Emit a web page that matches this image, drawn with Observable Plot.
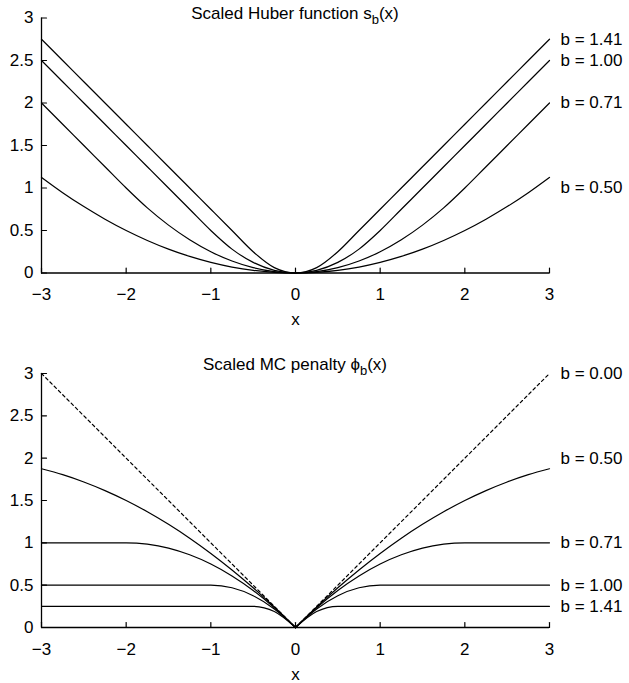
<!DOCTYPE html>
<html><head><meta charset="utf-8">
<script src="https://cdn.jsdelivr.net/npm/d3@7"></script>
<script src="https://cdn.jsdelivr.net/npm/@observablehq/plot@0.6"></script>
<style>
body{margin:0;background:#fff;}
#chart{width:629px;}
#chart svg{display:block;}
</style></head><body><div id="chart"></div>
<script>
// sample positions along x
const xs = [-3,-2.75,-2.5,-2.25,-2,-1.75,-1.5,-1.25,-1,-0.75,-0.5,-0.25,0,0.25,0.5,0.75,1,1.25,1.5,1.75,2,2.25,2.5,2.75,3];

// Scaled Huber function s_b(x)
const huber141 = [2.75,2.5,2.25,2,1.75,1.5,1.25,1,0.75,0.5,0.25,0.063,0,0.063,0.25,0.5,0.75,1,1.25,1.5,1.75,2,2.25,2.5,2.75];
const huber100 = [2.5,2.25,2,1.75,1.5,1.25,1,0.75,0.5,0.281,0.125,0.031,0,0.031,0.125,0.281,0.5,0.75,1,1.25,1.5,1.75,2,2.25,2.5];
const huber071 = [2,1.75,1.5,1.25,1,0.766,0.563,0.391,0.25,0.141,0.063,0.016,0,0.016,0.063,0.141,0.25,0.391,0.563,0.766,1,1.25,1.5,1.75,2];
const huber050 = [1.125,0.945,0.781,0.633,0.5,0.383,0.281,0.195,0.125,0.07,0.031,0.008,0,0.008,0.031,0.07,0.125,0.195,0.281,0.383,0.5,0.633,0.781,0.945,1.125];

// Scaled MC penalty phi_b(x)
const mc000 = [3,2.75,2.5,2.25,2,1.75,1.5,1.25,1,0.75,0.5,0.25,0,0.25,0.5,0.75,1,1.25,1.5,1.75,2,2.25,2.5,2.75,3];
const mc050 = [1.875,1.805,1.719,1.617,1.5,1.367,1.219,1.055,0.875,0.68,0.469,0.242,0,0.242,0.469,0.68,0.875,1.055,1.219,1.367,1.5,1.617,1.719,1.805,1.875];
const mc071 = [1,1,1,1,1,0.984,0.938,0.859,0.75,0.609,0.438,0.234,0,0.234,0.438,0.609,0.75,0.859,0.938,0.984,1,1,1,1,1];
const mc100 = [0.5,0.5,0.5,0.5,0.5,0.5,0.5,0.5,0.5,0.469,0.375,0.219,0,0.219,0.375,0.469,0.5,0.5,0.5,0.5,0.5,0.5,0.5,0.5,0.5];
const mc141 = [0.25,0.25,0.25,0.25,0.25,0.25,0.25,0.25,0.25,0.25,0.25,0.188,0,0.188,0.25,0.25,0.25,0.25,0.25,0.25,0.25,0.25,0.25,0.25,0.25];

const huberLabels = ["b = 1.41","b = 1.00","b = 0.71","b = 0.50"];
const huberLabelY = [2.75, 2.5, 2.0, 1.0];
const mcLabels = ["b = 0.00","b = 0.50","b = 0.71","b = 1.00","b = 1.41"];
const mcLabelY = [3.0, 2.0, 1.0, 0.5, 0.25];

const xTicks = [-3,-2,-1,0,1,2,3];
const yTicks = [0,0.5,1,1.5,2,2.5,3];

const FONT = "Liberation Sans, Arial, Helvetica, sans-serif";
const FS = 17;
const tickShape = {draw(ctx, l) { ctx.moveTo(0, 0); ctx.lineTo(0, -l); }};
const fmt = d => d < 0 ? "\u2212" + Math.abs(d) : String(d);

function panel({series, labels, labelY, dashed, split, height, marginTop, marginBottom, title, titleDy}) {
  const rows = [];
  series.forEach((vals, k) => xs.forEach((x, i) => {
    if (split) {
      if (x <= 0) rows.push({x, y: vals[i], key: labels[k] + "L", dashed: dashed[k]});
      if (x >= 0) rows.push({x, y: vals[i], key: labels[k] + "R", dashed: dashed[k]});
    } else {
      rows.push({x, y: vals[i], key: labels[k], dashed: dashed[k]});
    }
  }));
  const ends = labels.map((t, k) => ({t, y: labelY[k]}));
  const plot = Plot.plot({
    width: 629, height,
    marginLeft: 41, marginRight: 80, marginTop, marginBottom,
    style: {fontFamily: FONT, fontSize: FS + "px", color: "black", background: "white"},
    x: {domain: [-3, 3]},
    y: {domain: [0, 3]},
    marks: [
      Plot.line(rows.filter(d => !d.dashed), {x: "x", y: "y", z: "key", curve: "monotone-x", stroke: "black", strokeWidth: 1.2}),
      Plot.line(rows.filter(d => d.dashed), {x: "x", y: "y", z: "key", stroke: "black", strokeWidth: 1.2, strokeDasharray: "3,3"}),
      Plot.ruleY([0], {stroke: "black", strokeWidth: 1.3}),
      Plot.ruleX([-3], {stroke: "black", strokeWidth: 1.3}),
      Plot.vector(xTicks, {x: d => d, y: 0, length: 5, rotate: 0, anchor: "start", shape: tickShape, stroke: "black", strokeWidth: 1.2}),
      Plot.vector(yTicks, {x: -3, y: d => d, length: 5, rotate: 90, anchor: "start", shape: tickShape, stroke: "black", strokeWidth: 1.2}),
      Plot.axisX({ticks: xTicks, tickSize: 0, tickPadding: 15, label: null, fontSize: FS, tickFormat: fmt}),
      Plot.axisY({ticks: yTicks, tickSize: 0, tickPadding: 8, label: null, fontSize: FS, tickFormat: fmt}),
      Plot.text(["x"], {x: 0, y: 0, text: d => d, dy: 47, fontSize: FS, fill: "black"}),
      Plot.text(ends, {x: 3, y: "y", text: "t", dx: 11, textAnchor: "start", fontSize: FS, fill: "black"})
    ]
  });
  const sx = plot.scale("x"), sy = plot.scale("y");
  const t = d3.select(plot).append("text")
    .attr("x", sx.apply(0)).attr("y", sy.apply(3) + titleDy)
    .attr("text-anchor", "middle").attr("font-size", FS).attr("fill", "black")
    .attr("font-family", FONT);
  t.append("tspan").text(title[0]);
  t.append("tspan").attr("dy", 5).attr("font-size", 13).text("b");
  t.append("tspan").attr("dy", -5).text("(x)");
  return plot;
}

const chart = document.getElementById("chart");
chart.append(panel({
  series: [huber141, huber100, huber071, huber050],
  labels: huberLabels, labelY: huberLabelY,
  dashed: [false, false, false, false], split: false,
  height: 341, marginTop: 17.5, marginBottom: 68.5,
  title: ["Scaled Huber function s"], titleDy: 1.5
}));
chart.append(panel({
  series: [mc000, mc050, mc071, mc100, mc141],
  labels: mcLabels, labelY: mcLabelY,
  dashed: [true, false, false, false, false], split: true,
  height: 342, marginTop: 32, marginBottom: 56,
  title: ["Scaled MC penalty \u03D5"], titleDy: -3
}));
</script></body></html>
